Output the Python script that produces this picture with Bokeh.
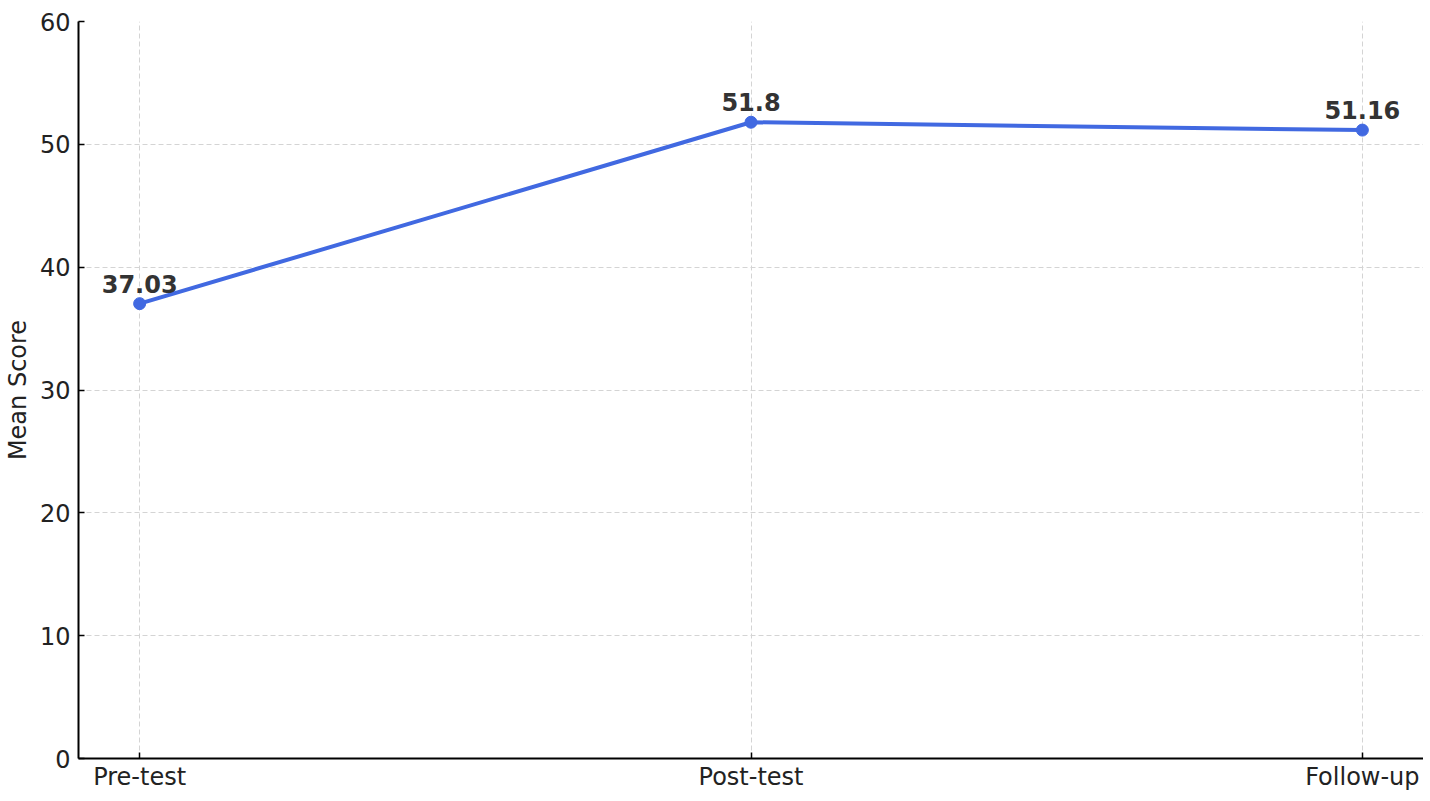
from bokeh.plotting import figure
from bokeh.models import Range1d, FixedTicker, ColumnDataSource
from bokeh.core.properties import value
from bokeh.embed import file_html
from bokeh.resources import INLINE

categories = ["Pre-test", "Post-test", "Follow-up"]
mean_scores = [37.03, 51.8, 51.16]
y_ticks = [0, 10, 20, 30, 40, 50, 60]

xs = list(range(len(categories)))
src = ColumnDataSource(dict(x=xs, y=mean_scores, label=[f"{v:g}" for v in mean_scores]))

p = figure(width=1423, height=793, output_backend="svg", toolbar_location=None,
           x_range=Range1d(-0.1, len(categories) - 1 + 0.1), y_range=Range1d(0, 60),
           min_border_left=60, min_border_top=21, min_border_right=0, min_border_bottom=20)
p.outline_line_color = None

p.line("x", "y", source=src, line_color="#4169E1", line_width=4)
p.scatter("x", "y", source=src, size=12, fill_color="#4169E1", line_color="#4169E1")
p.text("x", "y", text="label", source=src, text_align="center", text_baseline="bottom",
       y_offset=-11, text_font=value("DejaVu Sans"), text_font_size="24px",
       text_font_style="bold", text_color="#333333")

p.xaxis.ticker = FixedTicker(ticks=xs)
p.xaxis.major_label_overrides = {i: c for i, c in enumerate(categories)}
p.yaxis.ticker = FixedTicker(ticks=y_ticks)
p.yaxis.axis_label = "Mean Score"

for ax in (p.xaxis, p.yaxis):
    ax.axis_line_color = "black"
    ax.axis_line_width = 2
    ax.major_tick_line_color = "black"
    ax.major_tick_line_width = 1.5
    ax.major_tick_in = 6
    ax.major_tick_out = 0
    ax.minor_tick_line_color = None
    ax.major_label_text_font = "DejaVu Sans"
    ax.major_label_text_font_size = "24px"
    ax.major_label_text_color = "#222222"
    ax.axis_label_text_font = "DejaVu Sans"
    ax.axis_label_text_font_size = "24px"
    ax.axis_label_text_font_style = "normal"
    ax.axis_label_text_color = "#222222"
p.xaxis.major_label_standoff = 4
p.yaxis.major_label_standoff = 8
p.yaxis.axis_label_standoff = 5

for g in (p.xgrid, p.ygrid):
    g.grid_line_color = "#d4d4d4"
    g.grid_line_dash = "5 3"
    g.grid_line_width = 1

open("out.html", "w").write(file_html(p, INLINE))
